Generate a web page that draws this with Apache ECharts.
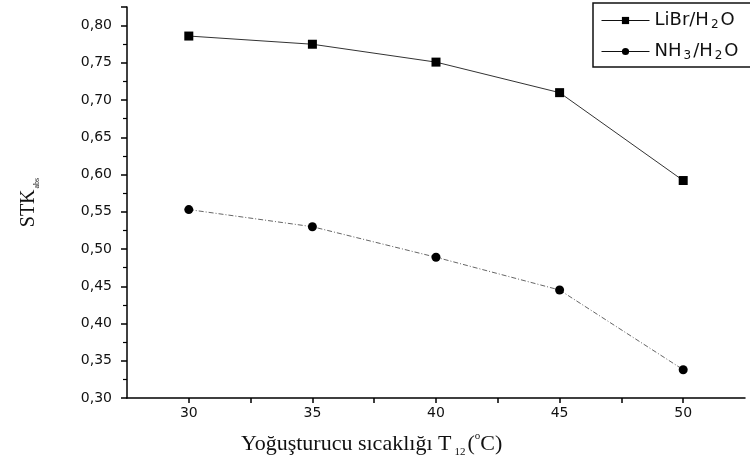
<!DOCTYPE html>
<html>
<head>
<meta charset="utf-8">
<script src="https://cdn.jsdelivr.net/npm/echarts@6/dist/echarts.min.js"></script>
<style>
  html, body { margin: 0; padding: 0; background: #fff; }
  #chart { width: 750px; height: 467px; }
</style>
</head>
<body>
<div id="chart"></div>
<script>
// Condenser temperature (°C)
const temperatures = [30, 35, 40, 45, 50];
// Absorption system exergetic efficiency
const libr = [0.786, 0.775, 0.751, 0.710, 0.592];
const nh3 = [0.553, 0.530, 0.489, 0.445, 0.338];
const seriesNames = ['LiBr/H2O', 'NH3/H2O'];

const sans = '"DejaVu Sans", Arial, sans-serif';
const serif = '"Liberation Serif", "Times New Roman", serif';

const chart = echarts.init(document.getElementById('chart'));

chart.setOption({
  animation: false,
  backgroundColor: '#fff',
  grid: { left: 127, right: 5, top: 7, bottom: 69, containLabel: false },
  title: {
    text: '{t|Yoğuşturucu sıcaklığı T}{s|12}{t|(}{o|o}{t|C)}',
    left: 236,
    top: 426,
    textStyle: {
      fontWeight: 'normal',
      rich: {
        t: { fontFamily: serif, fontSize: 22, fontWeight: 'normal', color: '#111', lineHeight: 27 },
        s: { fontFamily: serif, fontSize: 11, fontWeight: 'normal', color: '#111', lineHeight: 27, verticalAlign: 'bottom', padding: [10, 2, 0, 3] },
        o: { fontFamily: serif, fontSize: 11, fontWeight: 'normal', color: '#111', lineHeight: 27, verticalAlign: 'top', padding: [0, 0, 9, 0] }
      }
    }
  },
  legend: {
    orient: 'vertical',
    left: 593,
    top: 3,
    padding: [7, 14, 5, 8],
    itemGap: 10,
    itemWidth: 48,
    itemHeight: 9,
    borderColor: '#111',
    borderWidth: 1.5,
    borderRadius: 0,
    data: seriesNames,
    lineStyle: { color: '#111', width: 1, type: 'solid' },
    formatter: function (name) {
      return name === 'LiBr/H2O'
        ? '{t|LiBr/H}{s|2}{t|O}'
        : '{t|NH}{s|3}{t|/H}{s|2}{t|O}';
    },
    textStyle: {
      rich: {
        t: { fontFamily: sans, fontSize: 18, color: '#111', lineHeight: 21 },
        s: { fontFamily: sans, fontSize: 12, color: '#111', lineHeight: 21, verticalAlign: 'bottom', padding: [9, 2, 0, 2] }
      }
    }
  },
  xAxis: {
    type: 'value',
    min: 27.5,
    max: 52.5,
    interval: 2.5,
    axisLine: { show: true, onZero: false, lineStyle: { color: '#000', width: 1.5 } },
    axisTick: { show: true, length: 5, lineStyle: { color: '#000', width: 1.5 } },
    splitLine: { show: false },
    axisLabel: {
      margin: 8,
      fontFamily: sans,
      fontSize: 14,
      color: '#111',
      showMinLabel: false,
      showMaxLabel: false,
      formatter: function (v) {
        return Math.abs(v % 5) < 1e-6 ? String(v) : '';
      }
    }
  },
  yAxis: {
    type: 'value',
    min: 0.30,
    max: 0.825,
    interval: 0.05,
    name: '{t|STK}{s|abs}',
    nameLocation: 'middle',
    nameRotate: 90,
    nameGap: 86,
    nameTextStyle: {
      rich: {
        t: { fontFamily: serif, fontSize: 20, color: '#111', lineHeight: 24 },
        s: { fontFamily: serif, fontSize: 8, color: '#111', lineHeight: 24, verticalAlign: 'bottom', padding: [10, 0, 0, 1] }
      }
    },
    axisLine: { show: true, lineStyle: { color: '#000', width: 1.5 } },
    axisTick: { show: true, length: 6, lineStyle: { color: '#000', width: 1.5 } },
    minorTick: { show: true, splitNumber: 2, length: 4, lineStyle: { color: '#000', width: 1.2 } },
    splitLine: { show: false },
    axisLabel: {
      margin: 15,
      fontFamily: sans,
      fontSize: 14,
      color: '#111',
      formatter: function (v) {
        return v > 0.8001 ? '' : v.toFixed(2).replace('.', ',');
      }
    }
  },
  series: [
    {
      name: seriesNames[0],
      type: 'line',
      data: temperatures.map((t, i) => [t, libr[i]]),
      symbol: 'rect',
      symbolSize: 9,
      itemStyle: { color: '#000' },
      lineStyle: { color: '#333', width: 1 }
    },
    {
      name: seriesNames[1],
      type: 'line',
      data: temperatures.map((t, i) => [t, nh3[i]]),
      symbol: 'circle',
      symbolSize: 9,
      itemStyle: { color: '#000' },
      lineStyle: { color: '#666', width: 1, type: [5, 2, 1, 2] }
    }
  ]
});
</script>
</body>
</html>
